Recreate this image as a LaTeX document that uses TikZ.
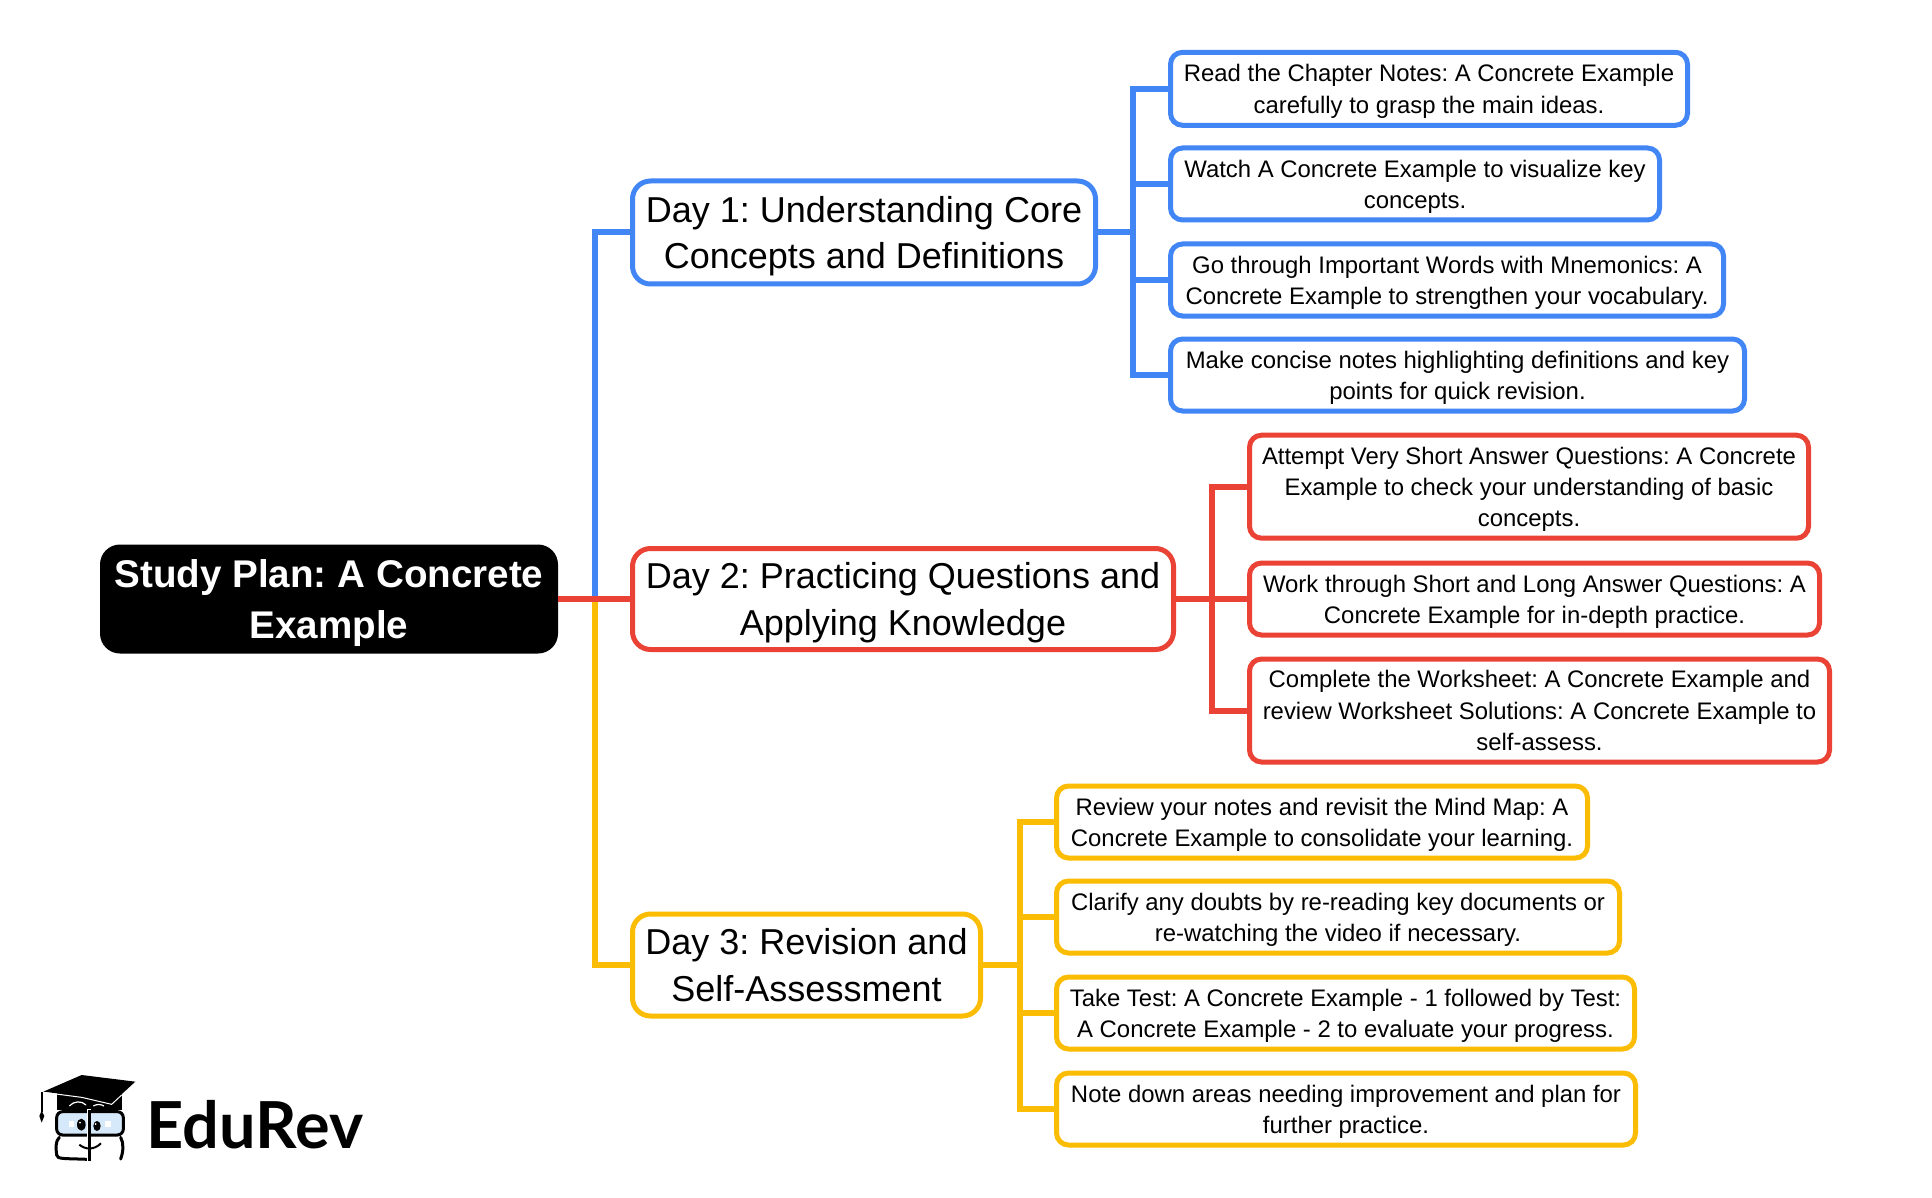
\documentclass[tikz,border=0pt]{standalone}
\usepackage{fontspec}
\setmainfont{Liberation Sans}
\newfontfamily\logofont{Lato}
\frenchspacing
\definecolor{dayblue}{HTML}{4285F4}
\definecolor{dayred}{HTML}{EA4335}
\definecolor{dayyellow}{HTML}{FBBC04}
\definecolor{glassblue}{HTML}{D6E9FB}
\tikzset{
  rootbox/.style={fill=black,text=white,rounded corners=10pt,align=center,inner sep=0,outer sep=0,text depth=0pt,
    font=\fontsize{19.3}{25.4}\selectfont\bfseries},
  daybox/.style={draw=#1,fill=white,line width=2.5pt,rounded corners=9pt,align=center,inner sep=0,outer sep=0,text depth=0pt,
    font=\fontsize{18}{23.4}\selectfont},
  leafbox/.style={draw=#1,fill=white,line width=2.5pt,rounded corners=6pt,align=center,inner sep=0,outer sep=0,text depth=0pt,
    font=\fontsize{11.95}{15.6}\selectfont},
  branch/.style={draw=#1,line width=3pt},
}
\begin{document}
\begin{tikzpicture}[x=0.5pt,y=-0.5pt]
        \useasboundingbox (0,0) rectangle (1932,1198) ;
        %\draw[very thin,gray,step=100] (0,0) grid (1932,1198) ;
        \coordinate (rootfork) at (595,599) ;
        \coordinate (bluefork) at (1133,232.5) ;
        \coordinate (redfork) at (1212,599) ;
        \coordinate (yellowfork) at (1019.5,965) ;
        \node[rootbox,minimum width=229pt,minimum height=54.5pt] (root) at (329,599)
        {Study Plan: A Concrete\\Example} ;
        \node[daybox=dayblue,minimum width=231.5pt,minimum height=51.5pt] (day1) at (864,232.5)
        {Day 1: Understanding Core\\Concepts and Definitions} ;
        \node[daybox=dayred,minimum width=270.5pt,minimum height=50.5pt] (day2) at (903,599)
        {Day 2: Practicing Questions and\\Applying Knowledge} ;
        \node[daybox=dayyellow,minimum width=174pt,minimum height=51pt] (day3) at (806.5,965)
        {Day 3: Revision and\\Self-Assessment} ;
        % day 1
        \node[leafbox=dayblue,minimum width=258.5pt,minimum height=36.5pt] (notes) at (1429,88.8)
        {Read the Chapter Notes: A Concrete Example\\carefully to grasp the main ideas.} ;
        \node[leafbox=dayblue,minimum width=244.5pt,minimum height=36pt] (watch) at (1415,184)
        {Watch A Concrete Example to visualize key\\concepts.} ;
        \node[leafbox=dayblue,minimum width=276.5pt,minimum height=36pt] (words) at (1447,280)
        {Go through Important Words with Mnemonics: A\\Concrete Example to strengthen your vocabulary.} ;
        \node[leafbox=dayblue,minimum width=287pt,minimum height=36pt] (concise) at (1457.5,375)
        {Make concise notes highlighting definitions and key\\points for quick revision.} ;
        % day 2
        \node[leafbox=dayred,minimum width=279.5pt,minimum height=51.5pt] (vsa) at (1529,486.7)
        {Attempt Very Short Answer Questions: A Concrete\\Example to check your understanding of basic\\concepts.} ;
        \node[leafbox=dayred,minimum width=285pt,minimum height=36pt] (longans) at (1534.5,599)
        {Work through Short and Long Answer Questions: A\\Concrete Example for in-depth practice.} ;
        \node[leafbox=dayred,minimum width=290pt,minimum height=51.5pt] (worksheet) at (1539.5,710.5)
        {Complete the Worksheet: A Concrete Example and\\review Worksheet Solutions: A Concrete Example to\\self-assess.} ;
        % day 3
        \node[leafbox=dayyellow,minimum width=265.5pt,minimum height=36pt] (review) at (1322,822)
        {Review your notes and revisit the Mind Map: A\\Concrete Example to consolidate your learning.} ;
        \node[leafbox=dayyellow,minimum width=281.5pt,minimum height=36pt] (doubts) at (1338,917)
        {Clarify any doubts by re-reading key documents or\\re-watching the video if necessary.} ;
        \node[leafbox=dayyellow,minimum width=289pt,minimum height=36pt] (tests) at (1345.5,1013)
        {Take Test: A Concrete Example - 1 followed by Test:\\A Concrete Example - 2 to evaluate your progress.} ;
        \node[leafbox=dayyellow,minimum width=289.5pt,minimum height=36pt] (improve) at (1346,1109)
        {Note down areas needing improvement and plan for\\further practice.} ;
        % connectors
        \draw[branch=dayblue] (root.east) -- (rootfork) |- (day1.west) ;
        \draw[branch=dayyellow] (root.east) -- (rootfork) |- (day3.west) ;
        \draw[branch=dayred] (root.east) -- (day2.west) ;
        \draw[branch=dayblue] (day1.east) -- (bluefork) ;
        \draw[branch=dayblue] (bluefork) |- (notes.west) ;
        \draw[branch=dayblue] (bluefork) |- (watch.west) ;
        \draw[branch=dayblue] (bluefork) |- (words.west) ;
        \draw[branch=dayblue] (bluefork) |- (concise.west) ;
        \draw[branch=dayred] (day2.east) -- (redfork) ;
        \draw[branch=dayred] (redfork) |- (vsa.west) ;
        \draw[branch=dayred] (redfork) |- (longans.west) ;
        \draw[branch=dayred] (redfork) |- (worksheet.west) ;
        \draw[branch=dayyellow] (day3.east) -- (yellowfork) ;
        \draw[branch=dayyellow] (yellowfork) |- (review.west) ;
        \draw[branch=dayyellow] (yellowfork) |- (doubts.west) ;
        \draw[branch=dayyellow] (yellowfork) |- (tests.west) ;
        \draw[branch=dayyellow] (yellowfork) |- (improve.west) ;
        % logo
        \begin{scope}[shift={(0,1040)},scale=1/3]
          \fill (172,160) -- (172,210) -- (365,210) -- (365,160) -- cycle ;
          \fill[black] (130,155) -- (245,105) -- (406,125) -- (335,190) -- (245,170) -- cycle ;
          \draw[white,line width=0.5pt] (130,157) -- (245,172) -- (335,193) -- (365,165) ;
          \draw[white,line width=0.6pt] (208,198) .. controls (222,182) and (245,182) .. (258,195) ;
          \draw[white,line width=0.6pt] (280,198) .. controls (290,192) and (302,192) .. (312,198) ;
          \draw[line width=1pt] (125,157) -- (125,215) ;
          \fill (125,212) -- (133,228) -- (125,248) -- (118,228) -- cycle ;
          \draw[fill=glassblue,line width=1.5pt,rounded corners=3pt] (170,215) rectangle (370,285) ;
          \draw[line width=1.5pt,line cap=round] (178,292) .. controls (165,305) and (168,325) .. (170,345) .. controls (172,358) and (190,355) .. (262,358) ;
          \draw[line width=1.5pt,line cap=round] (362,292) .. controls (372,310) and (370,335) .. (362,357) ;
          \fill[white] (262,208) rectangle (274,362) ;
          \draw[line width=1.5pt] (268,210) -- (268,362) ;
          \fill (244,254) ellipse (13 and 18) ;
          \fill (291,258) ellipse (11 and 15) ;
          \fill[white] (240,248) circle (3) ;
          \fill[white] (287,252) circle (3) ;
          \fill[white] (206,243) rectangle (222,260) ;
          \fill[white] (316,243) rectangle (334,260) ;
          \draw[line width=1pt] (238,314) .. controls (258,330) and (282,330) .. (303,310) ;
          \node[anchor=base west,inner sep=0,font=\fontsize{32.4}{33}\selectfont\logofont\bfseries] (brand) at (439,326) {EduRev} ;
        \end{scope}
      \end{tikzpicture}
\end{document}
